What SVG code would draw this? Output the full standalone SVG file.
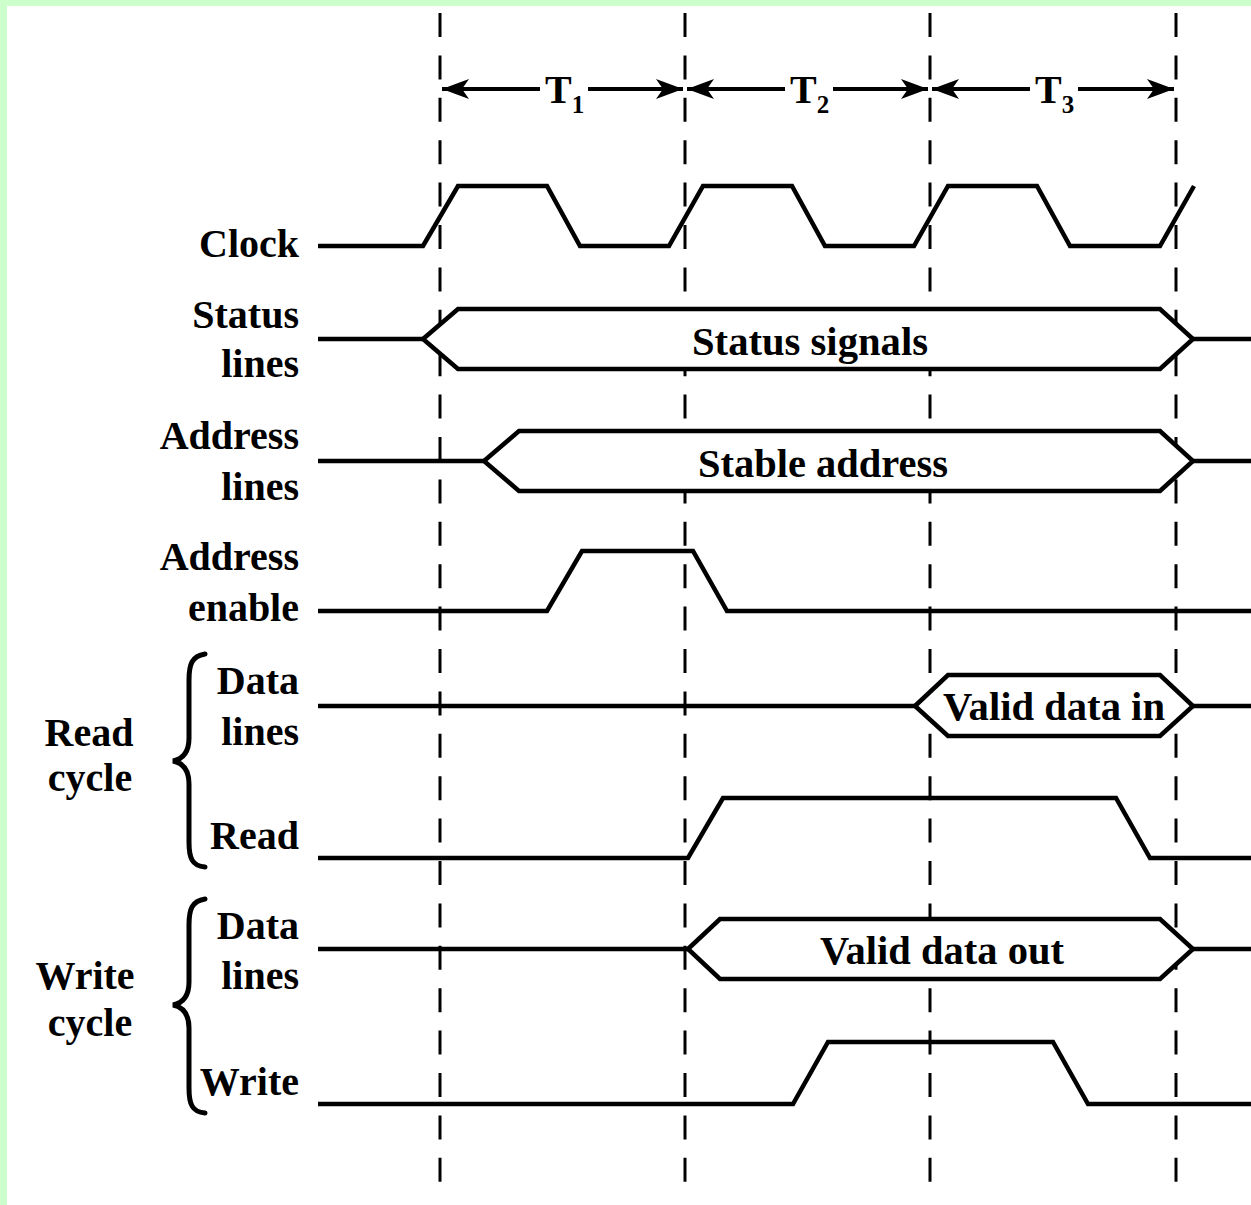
<svg xmlns="http://www.w3.org/2000/svg" width="1251" height="1205" viewBox="0 0 1251 1205">
<style>
.sig{fill:none;stroke:#000;stroke-width:4.5;stroke-linejoin:miter}
.hex{fill:#fff;stroke:#000;stroke-width:4.5}
.dash{stroke:#000;stroke-width:3;stroke-dasharray:24 18.4}
.arr{stroke:#000;stroke-width:4}
.brace{fill:none;stroke:#000;stroke-width:5;stroke-linecap:round}
text{font-family:"Liberation Serif","Times New Roman",serif;font-weight:bold;font-size:40px;fill:#000}
.lab{text-anchor:end}
.mid{text-anchor:middle}
.sub{font-size:25px}
</style>
<defs>
<marker id="ah" markerUnits="userSpaceOnUse" markerWidth="30" markerHeight="24" refX="27" refY="12" orient="auto" viewBox="0 0 30 24">
<path d="M27,12 L0,2 L7,12 L0,22 Z" fill="#000"/>
</marker>
</defs>
<rect x="0" y="0" width="1251" height="1205" fill="#fff"/>
<rect x="0" y="0" width="1251" height="6" fill="#ccffcc"/>
<rect x="0" y="0" width="7" height="1205" fill="#ccffcc"/>

<g id="connectors">
<line class="dash" x1="440" y1="13" x2="440" y2="1182"/>
<line class="dash" x1="685" y1="13" x2="685" y2="1182"/>
<line class="dash" x1="930" y1="13" x2="930" y2="1182"/>
<line class="dash" x1="1176" y1="13" x2="1176" y2="1182"/>
<line class="arr" x1="540" y1="89" x2="442" y2="89" marker-end="url(#ah)"/>
<line class="arr" x1="588" y1="89" x2="683" y2="89" marker-end="url(#ah)"/>
<line class="arr" x1="785" y1="89" x2="687" y2="89" marker-end="url(#ah)"/>
<line class="arr" x1="833" y1="89" x2="928" y2="89" marker-end="url(#ah)"/>
<line class="arr" x1="1030" y1="89" x2="932" y2="89" marker-end="url(#ah)"/>
<line class="arr" x1="1078" y1="89" x2="1174" y2="89" marker-end="url(#ah)"/>
</g>

<g id="periods">
<text x="545" y="103">T<tspan class="sub" dy="10">1</tspan></text>
<text x="790" y="103">T<tspan class="sub" dy="10">2</tspan></text>
<text x="1035" y="103">T<tspan class="sub" dy="10">3</tspan></text>
</g>

<g id="clock">
<text class="lab" x="299" y="257">Clock</text>
<polyline class="sig" points="318,246 423,246 458,186 547,186 580,246 669,246 703,186 792,186 825,246 914,246 948,186 1037,186 1070,246 1160,246 1194,186"/>
</g>

<g id="status">
<text class="lab" x="299" y="328">Status</text>
<text class="lab" x="299" y="377">lines</text>
<line class="sig" x1="318" y1="339" x2="423" y2="339"/>
<line class="sig" x1="1193" y1="339" x2="1251" y2="339"/>
<polygon class="hex" points="423,339 458,309 1160,309 1193,339 1160,369 458,369"/>
<text x="692" y="355" textLength="236" lengthAdjust="spacingAndGlyphs">Status signals</text>
</g>

<g id="address">
<text class="lab" x="299" y="449">Address</text>
<text class="lab" x="299" y="500">lines</text>
<line class="sig" x1="318" y1="461" x2="484" y2="461"/>
<line class="sig" x1="1193" y1="461" x2="1251" y2="461"/>
<polygon class="hex" points="484,461 519,431 1160,431 1193,461 1160,491 519,491"/>
<text x="698" y="477" textLength="250" lengthAdjust="spacingAndGlyphs">Stable address</text>
</g>

<g id="address-enable">
<text class="lab" x="299" y="570">Address</text>
<text class="lab" x="299" y="621">enable</text>
<polyline class="sig" points="318,611 547,611 582,551 693,551 727,611 1251,611"/>
</g>

<g id="read-cycle">
<text class="mid" x="89" y="746">Read</text>
<text class="mid" x="90" y="791">cycle</text>
<path class="brace" d="M205,654 C192,656 189,664 189,680 L189,738 C189,752 183,759 173,761 C183,763 189,770 189,784 L189,842 C189,858 192,866 205,867"/>
</g>

<g id="read-data">
<text class="lab" x="299" y="694">Data</text>
<text class="lab" x="299" y="745">lines</text>
<line class="sig" x1="318" y1="706" x2="915" y2="706"/>
<line class="sig" x1="1193" y1="706" x2="1251" y2="706"/>
<polygon class="hex" points="915,706 948,675 1160,675 1193,706 1160,736 948,736"/>
<text x="943" y="720" textLength="222" lengthAdjust="spacingAndGlyphs">Valid data in</text>
</g>

<g id="read">
<text class="lab" x="299" y="849">Read</text>
<polyline class="sig" points="318,858 688,858 723,798 1116,798 1150,858 1251,858"/>
</g>

<g id="write-cycle">
<text class="mid" x="85" y="989">Write</text>
<text class="mid" x="90" y="1036">cycle</text>
<path class="brace" d="M205,899 C192,901 189,909 189,925 L189,982 C189,996 183,1003 173,1005 C183,1007 189,1014 189,1028 L189,1088 C189,1104 192,1112 205,1113"/>
</g>

<g id="write-data">
<text class="lab" x="299" y="939">Data</text>
<text class="lab" x="299" y="989">lines</text>
<line class="sig" x1="318" y1="949" x2="688" y2="949"/>
<line class="sig" x1="1193" y1="949" x2="1251" y2="949"/>
<polygon class="hex" points="688,949 720,919 1160,919 1193,949 1160,979 720,979"/>
<text x="820" y="964" textLength="244" lengthAdjust="spacingAndGlyphs">Valid data out</text>
</g>

<g id="write">
<text class="lab" x="299" y="1095">Write</text>
<polyline class="sig" points="318,1104 793,1104 828,1042 1053,1042 1088,1104 1251,1104"/>
</g>
</svg>
